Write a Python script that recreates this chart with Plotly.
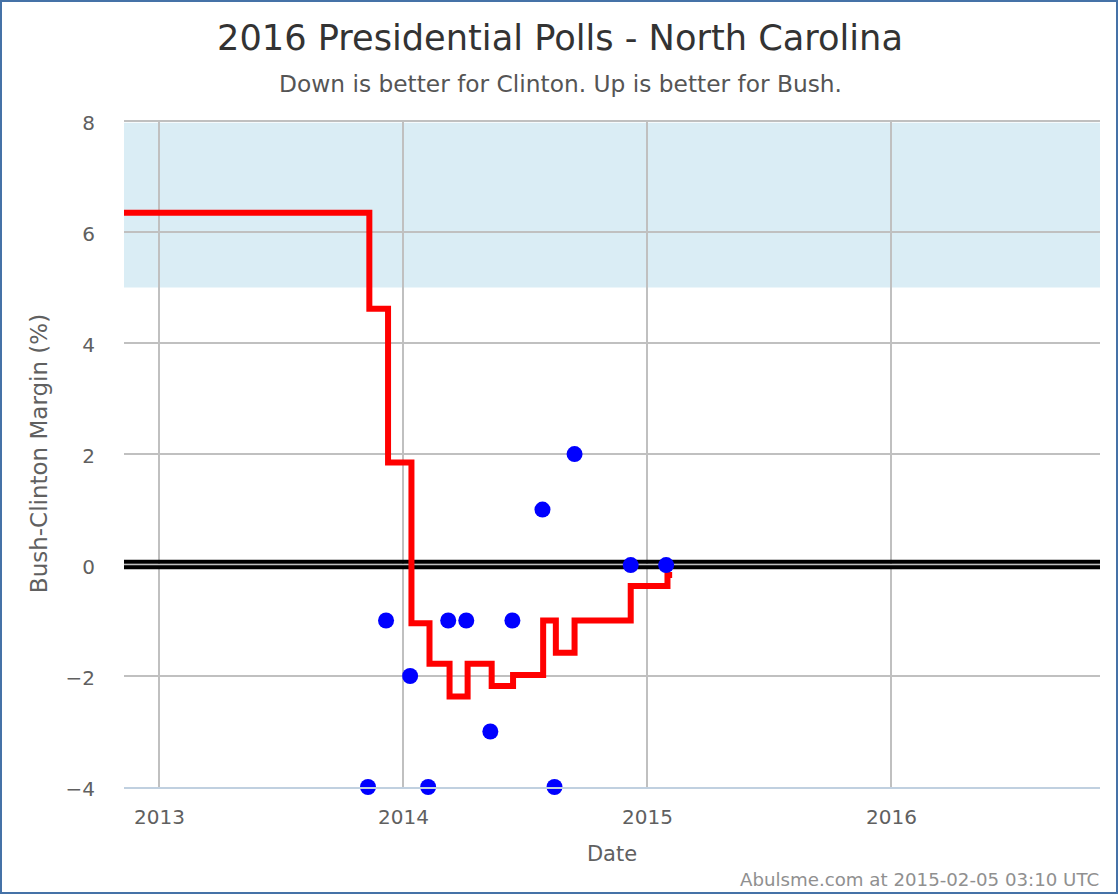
#!/usr/bin/env python3
import plotly.graph_objects as go

# Sondages individuels
poll_dates = ['2013-11-09', '2013-12-06', '2014-01-11', '2014-02-07', '2014-03-09',
              '2014-04-05', '2014-05-11', '2014-06-13', '2014-07-28', '2014-08-15',
              '2014-09-14', '2014-12-07', '2015-01-29']
poll_margins = [-4, -1, -2, -4, -1, -1, -3, -1, 1, -4, 2, 0, 0]

# Moyenne en escalier
avg_dates = ['2012-11-08', '2013-11-11', '2013-12-09', '2014-01-13', '2014-02-09',
             '2014-03-11', '2014-04-07', '2014-05-13', '2014-06-14', '2014-07-29',
             '2014-08-17', '2014-09-14', '2014-12-07', '2015-01-31', '2015-02-07']
avg_margins = [6.35, 4.62, 1.85, -1.05, -1.78, -2.37, -1.78, -2.18, -1.98, -1.0,
               -1.58, -1.0, -0.38, -0.18, -0.18]

x_range = ['2012-11-09', '2016-11-08']
y_ticks = [-4, -2, 0, 2, 4, 6, 8]
y_labels = ['−4', '−2', '0', '2', '4', '6', '8']
x_ticks = ['2013-01-01', '2014-01-01', '2015-01-01', '2016-01-01']
x_labels = ['2013', '2014', '2015', '2016']

FONT = 'DejaVu Sans'
W, H = 1120, 896
L, R, T, B = 124, 20, 120, 109


def px_x(p):
    return (p - L) / (W - L - R)


def px_y(p):
    return 1 - (p - T) / (H - T - B)


fig = go.Figure()

# Ligne du zero (double trait noir)
for y in [0.06, -0.04]:
    fig.add_trace(go.Scatter(
        x=x_range, y=[y, y], mode='lines',
        line=dict(color='#000000', width=4), hoverinfo='skip',
    ))

fig.add_trace(go.Scatter(
    x=avg_dates, y=avg_margins, mode='lines',
    line=dict(color='#ff0000', width=6, shape='hv'),
    cliponaxis=False, hoverinfo='skip',
))
fig.add_trace(go.Scatter(
    x=poll_dates, y=poll_margins, mode='markers',
    marker=dict(color='#0000ff', size=16),
    cliponaxis=False,
))

# Bande bleue
fig.add_hrect(y0=5, y1=7.97, fillcolor='#DAEDF5', line_width=0, layer='below')

# Cadre de l'image
fig.add_shape(type='rect', xref='paper', yref='paper',
              x0=px_x(1), x1=px_x(1117), y0=px_y(893), y1=px_y(1),
              line=dict(color='#4572A7', width=2), fillcolor='rgba(0,0,0,0)')

fig.add_annotation(text='Down is better for Clinton. Up is better for Bush.',
                   xref='paper', yref='paper', x=px_x(560), y=px_y(84),
                   yanchor='middle', showarrow=False,
                   font=dict(family=FONT, size=23.3, color='#555555'))
fig.add_annotation(text='Abulsme.com at 2015-02-05 03:10 UTC',
                   xref='paper', yref='paper', x=px_x(1101), y=px_y(879),
                   xanchor='right', yanchor='middle', showarrow=False,
                   font=dict(family=FONT, size=18.2, color='#909090'))

fig.update_layout(
    width=W, height=H,
    margin=dict(l=L, r=R, t=T, b=B),
    paper_bgcolor='white', plot_bgcolor='white',
    showlegend=False,
    font=dict(family=FONT),
    title=dict(text='2016 Presidential Polls - North Carolina',
               x=560 / W, xanchor='center', y=1 - 38 / H, yanchor='middle',
               font=dict(family=FONT, size=35.2, color='#333333')),
)
fig.update_xaxes(
    range=x_range, tickvals=x_ticks, ticktext=x_labels,
    showgrid=True, gridcolor='#C0C0C0', gridwidth=2, zeroline=False,
    showline=True, linecolor='#C0D0E0', linewidth=2, ticks='',
    tickfont=dict(size=20, color='#606060'), ticklabelstandoff=11,
    title=dict(text='Date', font=dict(size=21, color='#606060'), standoff=18),
)
# 8.02 en haut pour que plotly garde la grille a 8
fig.update_yaxes(
    range=[-4, 8.02], tickvals=y_ticks, ticktext=y_labels,
    showgrid=True, gridcolor='#C0C0C0', gridwidth=2, zeroline=False,
    showline=False, ticks='',
    tickfont=dict(size=20, color='#606060'), ticklabelstandoff=28, ticklabelshift=2,
    title=dict(text='Bush-Clinton Margin (%)', font=dict(size=23, color='#606060'), standoff=11),
)

# Sans la marge du body le cadre reste a sa place
fig.write_html('out.html', post_script="document.body.style.margin='0';",
               config={'displayModeBar': False})
